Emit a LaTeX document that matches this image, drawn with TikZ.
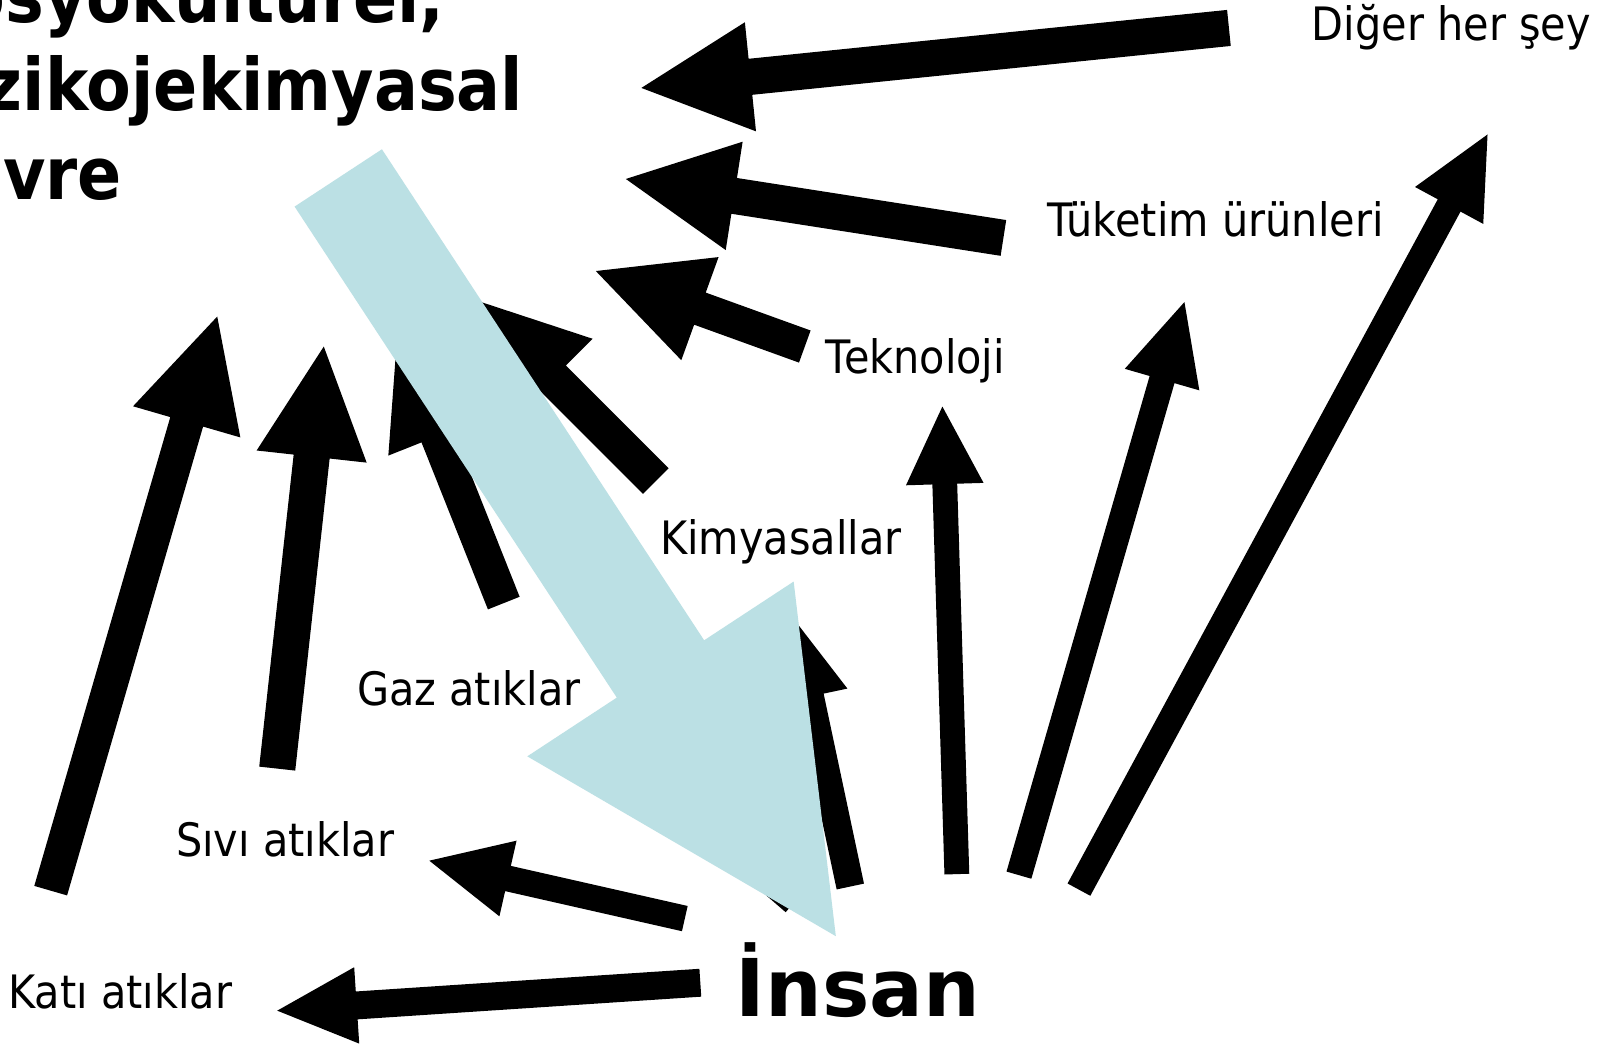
\documentclass[tikz,border=0pt]{standalone}
\usepackage{fontspec}
\usetikzlibrary{calc}
\newfontfamily\labfont{DejaVu Sans}[FakeStretch=0.9]
\newfontfamily\insanfont{DejaVu Sans}
\definecolor{envcyan}{RGB}{187,224,228}
\newcommand\blockarrow[6]{%
  \path ($(#2)!#5!(#1)$) coordinate (ba);
  \fill[#6] ($(#1)!#3!90:(#2)$) -- ($(ba)!#3!90:(#2)$) -- ($(ba)!#4!90:(#2)$) -- (#2)
    -- ($(ba)!#4!-90:(#2)$) -- ($(ba)!#3!-90:(#2)$) -- ($(#1)!#3!-90:(#2)$) -- cycle;}
\tikzset{
  lbl/.style={anchor=base west, inner sep=0pt, font=\labfont\fontsize{44.5}{50}\selectfont},
  ttl/.style={anchor=base east, inner sep=0pt, font=\labfont\bfseries\fontsize{70}{80}\selectfont},
  hum/.style={anchor=base west, inner sep=0pt, font=\insanfont\bfseries\fontsize{77}{90}\selectfont}
}
\begin{document}
\begin{tikzpicture}[x=1pt,y=-1pt]
\useasboundingbox (0,0) rectangle (1568,1010);
\fill[white] (0,0) rectangle (1568,1010);
% labels
\node[ttl] (cevre1) at (430,22) {Sosyokültürel,};
\node[ttl] (cevre2) at (506,107) {fizikojekimyasal};
\node[ttl] (cevre3) at (118,193) {çevre};
\node[lbl] (diger) at (1268,39) {Diğer her şey};
\node[lbl] (tuketim) at (1012,229) {Tüketim ürünleri};
\node[lbl] (teknoloji) at (798,361) {Teknoloji};
\node[lbl] (kimya) at (638,536) {Kimyasallar};
\node[lbl] (gaz) at (345,682) {Gaz atıklar};
\node[lbl] (sivi) at (170,828) {Sıvı atıklar};
\node[lbl] (kati) at (8,975) {Katı atıklar};
\node[hum] (insan) at (711,983) {İnsan};
% arrow end points
\coordinate (a1t) at (1188,27);  \coordinate (a1h) at (620,85);
\coordinate (a2t) at (970,230);  \coordinate (a2h) at (605,173);
\coordinate (a3t) at (778,335);  \coordinate (a3h) at (576,262);
\coordinate (a4t) at (634,465);  \coordinate (a4h) at (459,290);
\coordinate (a5t) at (487,583);  \coordinate (a5h) at (384,324);
\coordinate (a6t) at (268,743);  \coordinate (a6h) at (313,335);
\coordinate (a7t) at (49,861);   \coordinate (a7h) at (210,306);
\coordinate (a8t) at (677,950);  \coordinate (a8h) at (268,977);
\coordinate (a9t) at (662,888);  \coordinate (a9h) at (415,832);
\coordinate (a10t) at (768,872); \coordinate (a10h) at (575,705);
\coordinate (a11t) at (822,857); \coordinate (a11h) at (767,598);
\coordinate (a12t) at (925,845); \coordinate (a12h) at (911,393);
\coordinate (a13t) at (985,846); \coordinate (a13h) at (1145,292);
\coordinate (a14t) at (1043,860);\coordinate (a14h) at (1438,130);
\coordinate (ct) at (327,172);   \coordinate (ch) at (808,905);
% black arrows
\blockarrow{a1t}{a1h}{17.5pt}{53pt}{106pt}{black}
\blockarrow{a2t}{a2h}{17.5pt}{53pt}{106pt}{black}
\blockarrow{a3t}{a3h}{16.5pt}{53pt}{107pt}{black}
\blockarrow{a4t}{a4h}{17.5pt}{54pt}{107pt}{black}
\blockarrow{a5t}{a5h}{16.5pt}{51pt}{105pt}{black}
\blockarrow{a6t}{a6h}{17.5pt}{53.5pt}{107pt}{black}
\blockarrow{a7t}{a7h}{16.5pt}{54pt}{106pt}{black}
\blockarrow{a8t}{a8h}{13.5pt}{37pt}{77pt}{black}
\blockarrow{a9t}{a9h}{12.5pt}{37.5pt}{78pt}{black}
\blockarrow{a10t}{a10h}{13pt}{37pt}{77pt}{black}
\blockarrow{a11t}{a11h}{13.5pt}{37pt}{77pt}{black}
\blockarrow{a12t}{a12h}{12pt}{37.5pt}{75pt}{black}
\blockarrow{a13t}{a13h}{12.5pt}{37.5pt}{78pt}{black}
\blockarrow{a14t}{a14h}{12.5pt}{37.5pt}{78pt}{black}
% big light blue arrow
\blockarrow{ct}{ch}{50.5pt}{154pt}{309pt}{envcyan}
\end{tikzpicture}
\end{document}
